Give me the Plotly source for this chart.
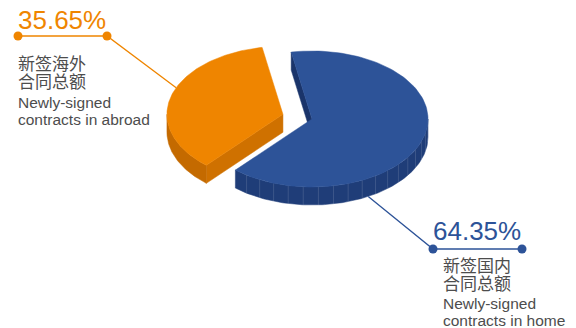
import numpy as np
import plotly.graph_objects as go

# ---- data ----
categories = ["home", "abroad"]
shares = [64.35, 35.65]
pct_labels = ["64.35%", "35.65%"]
cn_line1 = ["新签国内", "新签海外"]
cn_line2 = ["合同总额", "合同总额"]
en_line1 = ["Newly-signed", "Newly-signed"]
en_line2 = ["contracts in home", "contracts in abroad"]

# ---- style / layout ----
top_colors = ["#2D5398", "#EF8500"]
side_colors = ["#1F3D78", "#C46A00"]
wall_colors = ["#1A346A", "#CF7100"]
W, H = 576, 328
CX, CY = 312, 119          # pie centre (pixels)
RX, RY, DEPTH = 116, 68, 18
PULL = 0.26                # explode fraction for the abroad slice
ABROAD_MID = 164.5         # mid angle (deg) of abroad slice

total = sum(shares)
spans = [s / total * 360 for s in shares]
ab_start = ABROAD_MID - spans[1] / 2
ab_end = ab_start + spans[1]
slices = {
    1: (ab_start, ab_end),
    0: (ab_end, ab_end + spans[0]),
}


def center_of(i):
    t0, t1 = slices[i]
    if i == 1:
        m = np.radians((t0 + t1) / 2)
        return CX + PULL * RX * np.cos(m), CY - PULL * RY * np.sin(m)
    return CX, CY


def pt(c, t, dz=0.0):
    r = np.radians(t)
    return c[0] + RX * np.cos(r), c[1] - RY * np.sin(r) + dz


def arc(c, t0, t1, dz=0.0, n=120):
    ts = np.linspace(t0, t1, n)
    xs = c[0] + RX * np.cos(np.radians(ts))
    ys = c[1] - RY * np.sin(np.radians(ts)) + dz
    return list(xs), list(ys)


fig = go.Figure()


def poly(xs, ys, color):
    fig.add_trace(go.Scatter(x=xs, y=ys, mode="lines", fill="toself",
                             fillcolor=color, line=dict(color=color, width=0.5),
                             hoverinfo="skip", showlegend=False))


def draw_slice(i):
    c = center_of(i)
    t0, t1 = slices[i]
    # walls
    for t, normal in ((t0, t0 - 90), (t1, t1 + 90)):
        if np.sin(np.radians(normal)) < 0:
            ex, ey = pt(c, t)
            poly([c[0], ex, ex, c[0], c[0]],
                 [c[1], ey, ey + DEPTH, c[1] + DEPTH, c[1]], wall_colors[i])
    # outer side (front half: 180..360)
    for base in (0, 360):
        a0, a1 = max(t0, 180 + base), min(t1, 360 + base)
        if a1 > a0:
            tx, ty = arc(c, a0, a1)
            bx, by = arc(c, a1, a0, DEPTH)
            poly(tx + bx + [tx[0]], ty + by + [ty[0]], side_colors[i])
            if i == 0:
                sx, sy = [], []
                for t in np.arange(a0 + 7, a1, 7.5):
                    x1, y1 = pt(c, t)
                    sx += [x1, x1, None]
                    sy += [y1, y1 + DEPTH, None]
                fig.add_trace(go.Scatter(x=sx, y=sy, mode="lines",
                                         line=dict(color="rgba(255,255,255,0.13)", width=1),
                                         hoverinfo="skip", showlegend=False))
    # top
    ax, ay = arc(c, t0, t1)
    poly([c[0]] + ax + [c[0]], [c[1]] + ay + [c[1]], top_colors[i])


draw_slice(1)
draw_slice(0)

# ---- leader lines and labels ----
grey = "#4D4D4D"
label_cfg = {
    1: dict(anchor_t=157, dz=0, elbow=(107, 36), end=(18, 36), text_x=16,
            pct_x=16, pct_y=20, ys=(64.5, 82.5, 102.5, 119.5)),
    0: dict(anchor_t=299, dz=DEPTH, elbow=(433, 249), end=(522, 249), text_x=441,
            pct_x=431, pct_y=231, ys=(266, 284, 303.5, 320)),
}
for i, cfg in label_cfg.items():
    c = center_of(i)
    ax_, ay_ = pt(c, cfg["anchor_t"], cfg["dz"])
    col = top_colors[i]
    fig.add_trace(go.Scatter(x=[ax_, cfg["elbow"][0], cfg["end"][0]],
                             y=[ay_, cfg["elbow"][1], cfg["end"][1]],
                             mode="lines", line=dict(color=col, width=1.3),
                             hoverinfo="skip", showlegend=False))
    fig.add_trace(go.Scatter(x=[cfg["elbow"][0], cfg["end"][0]],
                             y=[cfg["elbow"][1], cfg["end"][1]],
                             mode="markers", marker=dict(color=col, size=9),
                             hoverinfo="skip", showlegend=False))
    fig.add_annotation(x=cfg["pct_x"], y=cfg["pct_y"], text=pct_labels[i],
                       showarrow=False, xanchor="left", yanchor="middle",
                       font=dict(family="Liberation Sans, Arial", size=26, color=col))
    texts = [cn_line1[i], cn_line2[i], en_line1[i], en_line2[i]]
    for k, (t, y) in enumerate(zip(texts, cfg["ys"])):
        size = 17 if k < 2 else 15.5
        fig.add_annotation(x=cfg["text_x"], y=y, text=t, showarrow=False,
                           xanchor="left", yanchor="middle",
                           font=dict(family="Liberation Sans, Noto Sans CJK SC",
                                     size=size, color=grey))

fig.update_layout(
    width=W, height=H, margin=dict(l=0, r=0, t=0, b=0),
    paper_bgcolor="white", plot_bgcolor="white",
    xaxis=dict(range=[0, W], visible=False, fixedrange=True),
    yaxis=dict(range=[H, 0], visible=False, fixedrange=True),
    showlegend=False,
)
fig.write_html("out.html", config={"displayModeBar": False})
